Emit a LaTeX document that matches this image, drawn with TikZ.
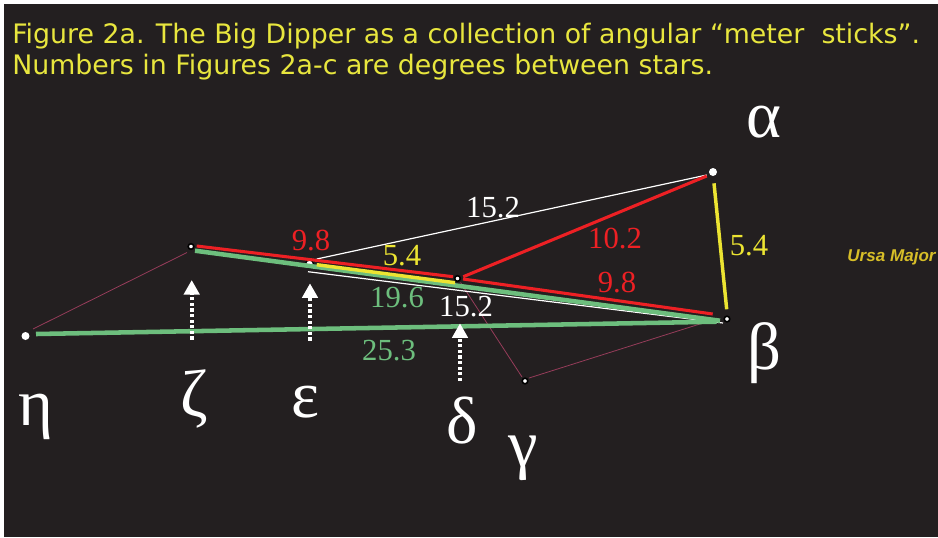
\documentclass[tikz,border=0pt]{standalone}
\usepackage{fontspec}
\setmainfont{Liberation Serif}
\newfontfamily\titlefont{DejaVu Sans}
\newfontfamily\labfont{Liberation Sans}
\usetikzlibrary{arrows.meta}
\definecolor{bgdark}{RGB}{35,31,32}
\definecolor{titleyellow}{RGB}{232,230,62}
\definecolor{linered}{RGB}{237,32,36}
\definecolor{linegreen}{RGB}{109,190,125}
\definecolor{lineyellow}{RGB}{236,228,50}
\definecolor{thinmaroon}{RGB}{150,60,90}
\definecolor{ursagold}{RGB}{215,190,40}
\begin{document}
\begin{tikzpicture}[x=0.75pt,y=-0.75pt,
  bigstar/.style={circle,fill=white,inner sep=0pt,minimum size=6pt},
  smallstar/.style={circle,fill=white,draw=black,line width=1.2pt,inner sep=0pt,minimum size=4.2pt},
  greek/.style={text=white,inner sep=0pt,font=\fontsize{50}{50}\selectfont},
  deg/.style={inner sep=0pt,font=\fontsize{23}{23}\selectfont},
  titletext/.style={text=titleyellow,inner sep=0pt,anchor=base west,font=\titlefont\fontsize{20.1}{23}\selectfont},
  redline/.style={draw=linered,line width=2.3pt},
  greenline/.style={draw=linegreen,line width=3.4pt},
  yellowline/.style={draw=lineyellow,line width=2.6pt},
  whiteline/.style={draw=white,line width=0.9pt},
  maroonline/.style={draw=thinmaroon,line width=0.6pt},
  pointer/.style={draw=white,line width=3pt,dash pattern=on 2.4pt off 1.8pt,
    -{Triangle[width=11.5pt,length=11pt]}}
]
\useasboundingbox (0,0) rectangle (938,537);
\fill[white] (0,0) rectangle (938,537);
\fill[bgdark] (4,4) rectangle (938,537);

% title
\node[titletext] (t1) at (12,43) {Figure 2a. The Big Dipper as a collection of angular “meter\ \ sticks”.};
\node[titletext] (t2) at (12,74) {Numbers in Figures 2a-c are degrees between stars.};

% stars
\node[bigstar] (alpha) at (713,172) {};
\node[smallstar] (beta) at (727,319) {};
\node[smallstar] (gamma) at (525,381) {};
\node[smallstar] (delta) at (457.5,278.5) {};
\node[bigstar,draw=black,line width=1pt] (epsilon) at (309.5,264) {};
\node[smallstar] (zeta) at (191,246.5) {};
\node[bigstar] (eta) at (25.5,336) {};

% thin maroon outline of the dipper
\draw[maroonline] ([shift={(7.5,-7)}]eta.center) -- ([shift={(-4,6)}]zeta.center);
\draw[maroonline] ([shift={(4,4)}]zeta.center) -- ([shift={(-6,2)}]epsilon.center);
\draw[maroonline] ([shift={(3,4)}]delta.center) -- ([shift={(-3,-4)}]gamma.center);
\draw[maroonline] ([shift={(4,-3)}]gamma.center) -- ([shift={(-24,4)}]beta.center);

% white lines
\draw[whiteline] ([shift={(7.2,-5)}]epsilon.center) -- ([shift={(-6.3,3)}]alpha.center);
\draw[whiteline] ([shift={(-1.5,7.7)}]epsilon.center) -- ([shift={(-4,4)}]beta.center);

% green lines
\draw[greenline] ([shift={(4,4.2)}]zeta.center) -- ([shift={(-7,1.7)}]beta.center);
\draw[greenline] ([shift={(10.5,-2)}]eta.center) -- ([shift={(-10.3,2.7)}]beta.center);

% yellow lines
\draw[yellowline] ([shift={(7.2,0.7)}]epsilon.center) -- ([shift={(-2.5,4.2)}]delta.center);
\draw[yellowline] ([shift={(1,11.3)}]alpha.center) -- ([shift={(-0.3,-9.7)}]beta.center);

% red lines
\draw[redline] ([shift={(5.7,-0.5)}]zeta.center) -- ([shift={(-4.5,-1.8)}]delta.center);
\draw[redline] ([shift={(5.8,-1.8)}]delta.center) -- ([shift={(-6.3,4)}]alpha.center);
\draw[redline] ([shift={(5.5,0.5)}]delta.center) -- ([shift={(-14.3,-5)}]beta.center);

% pointers
\coordinate (zfoot) at (191.7,339.5);
\coordinate (efoot) at (310,340.5);
\coordinate (dfoot) at (460,381);
\draw[pointer] (zfoot) -- ([shift={(0.7,33.5)}]zeta.center);
\draw[pointer] (efoot) -- ([shift={(0.5,19.3)}]epsilon.center);
\draw[pointer] (dfoot) -- ([shift={(2.5,44.8)}]delta.center);

% degree labels
\node[deg,text=white] (l1) at (493,207.5) {15.2};
\node[deg,text=linered] (l2) at (311,241) {9.8};
\node[deg,text=lineyellow] (l3) at (402,256) {5.4};
\node[deg,text=linered] (l4) at (615,239) {10.2};
\node[deg,text=lineyellow] (l5) at (749,246) {5.4};
\node[deg,text=linered] (l6) at (617,283) {9.8};
\node[deg,text=linegreen] (l7) at (397,298) {19.6};
\node[deg,text=white] (l8) at (466,307) {15.2};
\node[deg,text=linegreen] (l9) at (389,351) {25.3};

% greek letters
\node[greek] (galpha) at (764,122) {α};
\node[greek] (gbeta) at (764.5,353.5) {β};
\node[greek] (ggamma) at (523,458.5) {γ};
\node[greek] (gdelta) at (462,421) {δ};
\node[greek] (gepsilon) at (305,402.5) {ε};
\node[greek] (gzeta) at (194.5,399) {ζ};
\node[greek] (geta) at (36,416.5) {η};

% constellation name
\node[text=ursagold,inner sep=0pt,font=\labfont\bfseries\itshape\fontsize{12.8}{13}\selectfont] (ursa) at (891.5,257) {Ursa Major};
\end{tikzpicture}
\end{document}
